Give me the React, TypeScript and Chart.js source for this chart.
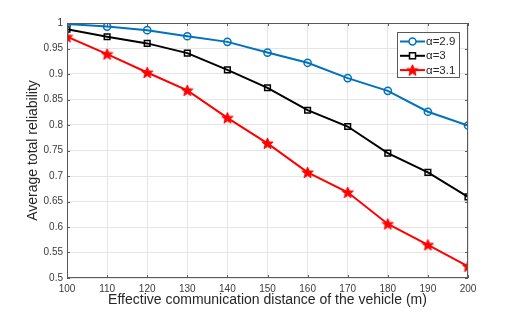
import React, { useEffect, useRef } from "react";
import { Chart, registerables } from "chart.js";

Chart.register(...registerables);

const distances = [100, 110, 120, 130, 140, 150, 160, 170, 180, 190, 200];
const alpha29 = [0.998, 0.993, 0.986, 0.974, 0.963, 0.942, 0.922, 0.892, 0.867, 0.826, 0.799];
const alpha30 = [0.988, 0.973, 0.960, 0.941, 0.908, 0.873, 0.829, 0.797, 0.745, 0.707, 0.659];
const alpha31 = [0.973, 0.939, 0.903, 0.868, 0.814, 0.764, 0.707, 0.668, 0.606, 0.565, 0.523];
const seriesLabels = ["α=2.9", "α=3", "α=3.1"];
const xTitle = "Effective communication distance of the vehicle (m)";
const yTitle = "Average total reliability";

const FONT = "'Liberation Sans', Arial, Helvetica, sans-serif";
const BLUE = "#0072BD";
const RED = "#FF0000";
const BLACK = "#000000";

function makeStar(size: number, color: string): HTMLCanvasElement {
  const c = document.createElement("canvas");
  c.width = size;
  c.height = size;
  const ctx = c.getContext("2d")!;
  const cx = size / 2;
  const cy = size / 2 + 0.5;
  const R = size / 2 - 0.5;
  const r = R * 0.42;
  ctx.beginPath();
  for (let i = 0; i < 10; i++) {
    const rad = i % 2 === 0 ? R : r;
    const a = -Math.PI / 2 + (i * Math.PI) / 5;
    const px = cx + rad * Math.cos(a);
    const py = cy + rad * Math.sin(a);
    if (i === 0) ctx.moveTo(px, py);
    else ctx.lineTo(px, py);
  }
  ctx.closePath();
  ctx.fillStyle = color;
  ctx.fill();
  ctx.strokeStyle = color;
  ctx.lineWidth = 1;
  ctx.stroke();
  return c;
}

const boxPlugin = {
  id: "boxPlugin",
  afterDatasetsDraw(chart: any) {
    const { ctx, chartArea } = chart;
    const { left, right, top, bottom } = chartArea;
    ctx.save();
    ctx.strokeStyle = "#5a5a5a";
    ctx.lineWidth = 1;
    ctx.strokeRect(left + 0.5, top + 0.5, right - left - 1, bottom - top - 1);
    const xs = chart.scales.x;
    const ys = chart.scales.y;
    const tl = 3;
    ctx.beginPath();
    xs.ticks.forEach((t: any) => {
      const px = Math.round(xs.getPixelForValue(t.value)) + 0.5;
      ctx.moveTo(px, bottom);
      ctx.lineTo(px, bottom - tl);
      ctx.moveTo(px, top);
      ctx.lineTo(px, top + tl);
    });
    ys.ticks.forEach((t: any) => {
      const py = Math.round(ys.getPixelForValue(t.value)) + 0.5;
      ctx.moveTo(left, py);
      ctx.lineTo(left + tl, py);
      ctx.moveTo(right, py);
      ctx.lineTo(right - tl, py);
    });
    ctx.stroke();

    // legend
    const lx = 397;
    const ly = 32;
    const lw = 62;
    const lh = 45;
    ctx.fillStyle = "#ffffff";
    ctx.fillRect(lx, ly, lw, lh);
    ctx.strokeStyle = "#5a5a5a";
    ctx.strokeRect(lx + 0.5, ly + 0.5, lw, lh);
    const ds = chart.data.datasets;
    ds.forEach((d: any, i: number) => {
      const yy = ly + 9.5 + i * 14.3;
      ctx.strokeStyle = d.borderColor;
      ctx.lineWidth = 2;
      ctx.beginPath();
      ctx.moveTo(lx + 3, yy);
      ctx.lineTo(lx + 28, yy);
      ctx.stroke();
      const mx = lx + 15.5;
      if (d.pointStyle === "circle") {
        ctx.lineWidth = 1.5;
        ctx.fillStyle = "#fff";
        ctx.beginPath();
        ctx.arc(mx, yy, 3.5, 0, Math.PI * 2);
        ctx.fill();
        ctx.stroke();
      } else if (d.pointStyle === "rect") {
        ctx.lineWidth = 1.5;
        ctx.fillStyle = "#fff";
        ctx.fillRect(mx - 3, yy - 3, 6, 6);
        ctx.strokeRect(mx - 3, yy - 3, 6, 6);
      } else {
        ctx.drawImage(d.pointStyle, mx - 6.5, yy - 6.5, 13, 13);
      }
      ctx.fillStyle = "#262626";
      ctx.font = `11.5px ${FONT}`;
      ctx.textBaseline = "middle";
      ctx.textAlign = "left";
      ctx.fillText(d.label, lx + 29, yy + 0.5);
    });
    ctx.restore();
  },
};

export default function App() {
  const ref = useRef<HTMLCanvasElement | null>(null);
  useEffect(() => {
    if (!ref.current) return;
    const star = makeStar(13, RED);
    const toPts = (arr: number[]) => distances.map((x, i) => ({ x, y: arr[i] }));
    const chart = new Chart(ref.current, {
      type: "line",
      data: {
        datasets: [
          {
            label: seriesLabels[0],
            data: toPts(alpha29),
            borderColor: BLUE,
            backgroundColor: "#ffffff",
            borderWidth: 2,
            pointStyle: "circle",
            pointRadius: 3.6,
            pointBorderWidth: 1.5,
            pointBorderColor: BLUE,
            pointBackgroundColor: "rgba(255,255,255,0)",
          },
          {
            label: seriesLabels[1],
            data: toPts(alpha30),
            borderColor: BLACK,
            backgroundColor: "#ffffff",
            borderWidth: 2,
            pointStyle: "rect",
            pointRadius: 4,
            pointBorderWidth: 1.5,
            pointBorderColor: BLACK,
            pointBackgroundColor: "rgba(255,255,255,0)",
          },
          {
            label: seriesLabels[2],
            data: toPts(alpha31),
            borderColor: RED,
            backgroundColor: RED,
            borderWidth: 2,
            pointStyle: star as any,
            pointRadius: 7,
          },
        ],
      },
      options: {
        responsive: false,
        animation: false,
        layout: { padding: { top: 23, right: 50, left: 0, bottom: 0 } },
        plugins: {
          legend: { display: false },
          tooltip: { enabled: false },
        },
        scales: {
          x: {
            type: "linear",
            min: 100,
            max: 200,
            afterFit: (s: any) => {
              s.height = 35;
            },
            ticks: {
              stepSize: 10,
              padding: 5,
              color: "#3a3a3a",
              font: { family: FONT, size: 10 },
              maxRotation: 0,
            },
            grid: { color: "#e5e5e5", drawTicks: false },
            border: { display: false },
            title: {
              display: true,
              text: xTitle,
              color: "#262626",
              font: { family: FONT, size: 14 },
              padding: { top: 0, bottom: 4.6 },
            },
          },
          y: {
            type: "linear",
            min: 0.5,
            max: 1,
            afterFit: (s: any) => {
              s.width = 67;
            },
            ticks: {
              stepSize: 0.05,
              padding: 4,
              color: "#3a3a3a",
              font: { family: FONT, size: 10 },
              callback: (v: any) => String(+Number(v).toFixed(2)),
            },
            grid: { color: "#e5e5e5", drawTicks: false },
            border: { display: false },
            title: {
              display: true,
              text: yTitle,
              color: "#262626",
              font: { family: FONT, size: 14 },
              padding: { top: 24.6, bottom: 0 },
            },
          },
        },
      },
      plugins: [boxPlugin],
    });
    return () => chart.destroy();
  }, []);
  return (
    <div style={{ position: "absolute", left: 0, top: 0, width: 518, height: 313, background: "#fff" }}>
      <canvas ref={ref} width={518} height={313} style={{ width: 518, height: 313 }} />
    </div>
  );
}
